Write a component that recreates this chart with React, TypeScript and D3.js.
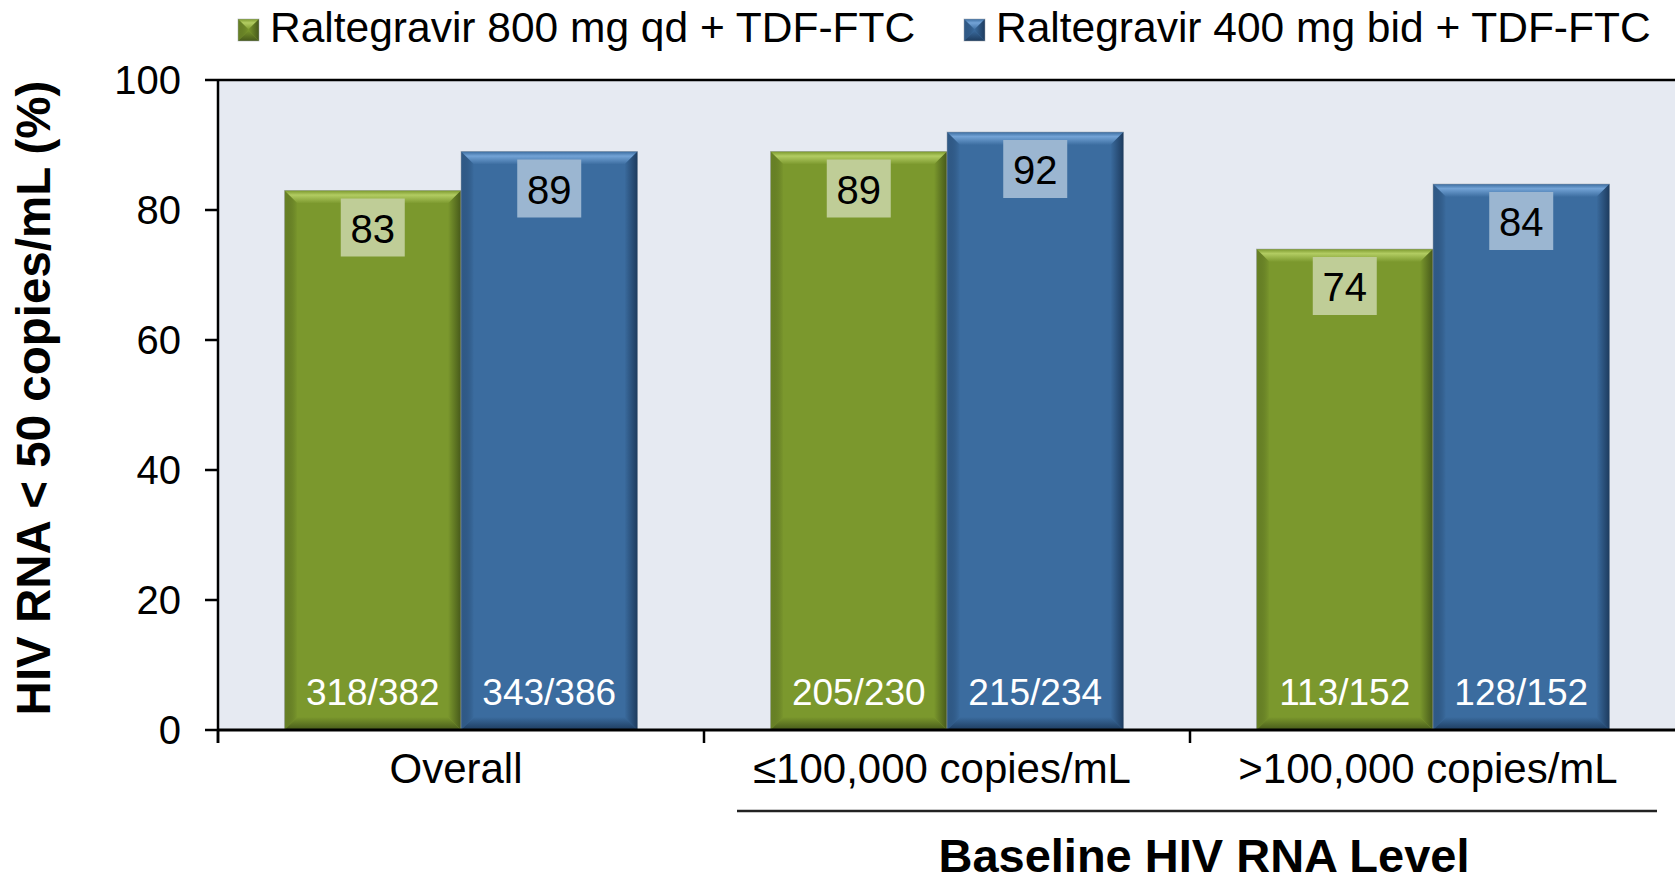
import React from 'react';
import * as d3 from 'd3';

// Chart data
const categories = ['Overall', '≤100,000 copies/mL', '>100,000 copies/mL'];
const seriesNames = ['Raltegravir 800 mg qd + TDF-FTC', 'Raltegravir 400 mg bid + TDF-FTC'];
const qdValues = [83, 89, 74];
const bidValues = [89, 92, 84];
const qdCounts = ['318/382', '205/230', '113/152'];
const bidCounts = ['343/386', '215/234', '128/152'];
const yTicks = [0, 20, 40, 60, 80, 100];

const palette = [
  { main: '#7b982d', light: '#b2cc62', dark: '#46591a', box: '#bfcd97' },
  { main: '#3b6c9f', light: '#73a3d6', dark: '#1d3b5e', box: '#9bb6d1' },
];

const W = 1675;
const H = 876;
const margin = { left: 218, top: 80, bottom: 146 };
const FONT = 'Arial, "Liberation Sans", sans-serif';

function BevelBar({ x, y, w, h, c, id }: any) {
  const b = Math.min(13, h / 2);
  const pts = (a: number[][]) => a.map(p => p.join(',')).join(' ');
  return (
    <g>
      <rect x={x} y={y} width={w} height={h} fill={c.main} />
      <polygon points={pts([[x, y], [x + w, y], [x + w - b, y + b], [x + b, y + b]])} fill={`url(#top-${id})`} />
      <polygon points={pts([[x, y], [x + b, y + b], [x + b, y + h - b], [x, y + h]])} fill={`url(#left-${id})`} />
      <polygon points={pts([[x + w, y], [x + w, y + h], [x + w - b, y + h - b], [x + w - b, y + b]])} fill={`url(#right-${id})`} />
      <polygon points={pts([[x, y + h], [x + b, y + h - b], [x + w - b, y + h - b], [x + w, y + h]])} fill={`url(#bottom-${id})`} />
      <rect x={x} y={y} width={w} height={h} fill="none" stroke="#9aa0a8" strokeWidth={0.8} strokeOpacity={0.6} />
    </g>
  );
}

function Gradients({ id, c }: any) {
  return (
    <>
      <linearGradient id={`top-${id}`} x1="0" y1="0" x2="0" y2="1">
        <stop offset="0" stopColor={c.main} />
        <stop offset="0.35" stopColor={c.light} />
        <stop offset="1" stopColor={c.main} />
      </linearGradient>
      <linearGradient id={`left-${id}`} x1="0" y1="0" x2="1" y2="0">
        <stop offset="0" stopColor={c.dark} stopOpacity={0.35} />
        <stop offset="1" stopColor={c.main} />
      </linearGradient>
      <linearGradient id={`right-${id}`} x1="0" y1="0" x2="1" y2="0">
        <stop offset="0" stopColor={c.main} />
        <stop offset="1" stopColor={c.dark} />
      </linearGradient>
      <linearGradient id={`bottom-${id}`} x1="0" y1="0" x2="0" y2="1">
        <stop offset="0" stopColor={c.main} />
        <stop offset="1" stopColor={c.dark} />
      </linearGradient>
    </>
  );
}

export default function App() {
  const x0 = d3.scaleBand<string>()
    .domain(categories)
    .range([margin.left, margin.left + 3 * 486])
    .paddingInner(0)
    .paddingOuter(0);
  const x1 = d3.scaleBand<number>()
    .domain([0, 1])
    .range([0, x0.bandwidth()])
    .paddingInner(0)
    .paddingOuter(0.377);
  const y = d3.scaleLinear().domain([0, 100]).range([H - margin.bottom, margin.top]);
  const y0 = y(0);

  const series = [
    { values: qdValues, counts: qdCounts },
    { values: bidValues, counts: bidCounts },
  ];

  const legendX = [238, 964];
  const bandEdges = categories.map(c => x0(c)!);

  return (
    <svg width={W} height={H} style={{ position: 'absolute', left: 0, top: 0, background: '#fff' }} fontFamily={FONT}>
      <defs>
        <Gradients id="s0" c={palette[0]} />
        <Gradients id="s1" c={palette[1]} />
      </defs>

      {/* plot background */}
      <rect x={margin.left} y={margin.top} width={W - margin.left} height={y0 - margin.top} fill="#e6eaf2" />

      {/* bars */}
      {series.map((s, si) =>
        categories.map((cat, ci) => {
          const bx = x0(cat)! + x1(si)!;
          const bw = x1.bandwidth();
          const by = y(s.values[ci]);
          const cx = bx + bw / 2;
          return (
            <g key={`${si}-${ci}`}>
              <BevelBar x={bx} y={by} w={bw} h={y0 - by} c={palette[si]} id={`s${si}`} />
              <rect x={cx - 32} y={by + 8} width={64} height={58} fill={palette[si].box} />
              <text x={cx} y={by + 52} textAnchor="middle" fontSize={40} fill="#000">{s.values[ci]}</text>
              <text x={cx} y={705} textAnchor="middle" fontSize={37} fill="#fff">{s.counts[ci]}</text>
            </g>
          );
        })
      )}

      {/* top border */}
      <line x1={margin.left} x2={W} y1={margin.top} y2={margin.top} stroke="#000" strokeWidth={2.5} />

      {/* y axis */}
      <line x1={margin.left} x2={margin.left} y1={margin.top} y2={y0 + 13} stroke="#000" strokeWidth={2.5} />
      {yTicks.map(t => (
        <g key={t}>
          <line x1={margin.left - 13} x2={margin.left} y1={y(t)} y2={y(t)} stroke="#000" strokeWidth={2.5} />
          <text x={181} y={y(t) + 14} textAnchor="end" fontSize={40} fill="#000">{t}</text>
        </g>
      ))}

      {/* x axis */}
      <line x1={margin.left} x2={W} y1={y0} y2={y0} stroke="#000" strokeWidth={3} />
      {bandEdges.map((e, i) => (
        <line key={i} x1={e} x2={e} y1={y0} y2={y0 + 13} stroke="#000" strokeWidth={2.5} />
      ))}
      {categories.map(c => (
        <text key={c} x={x0(c)! + x0.bandwidth() / 2 - 5} y={783} textAnchor="middle" fontSize={42} fill="#000">{c}</text>
      ))}

      {/* grouping line and title */}
      <line x1={737} x2={1657} y1={811} y2={811} stroke="#222" strokeWidth={2.5} />
      <text x={1204} y={872} textAnchor="middle" fontSize={47} fontWeight="bold" fill="#000">Baseline HIV RNA Level</text>

      {/* y title */}
      <text transform={`translate(50,398) rotate(-90)`} textAnchor="middle" fontSize={47.5} fontWeight="bold" fill="#000">
        HIV RNA &lt; 50 copies/mL (%)
      </text>

      {/* legend */}
      {seriesNames.map((n, i) => (
        <g key={n}>
          <BevelBar x={legendX[i]} y={19} w={21} h={22} c={palette[i]} id={`s${i}`} />
          <text x={legendX[i] + 32} y={42} fontSize={42.5} fill="#000">{n}</text>
        </g>
      ))}
    </svg>
  );
}
